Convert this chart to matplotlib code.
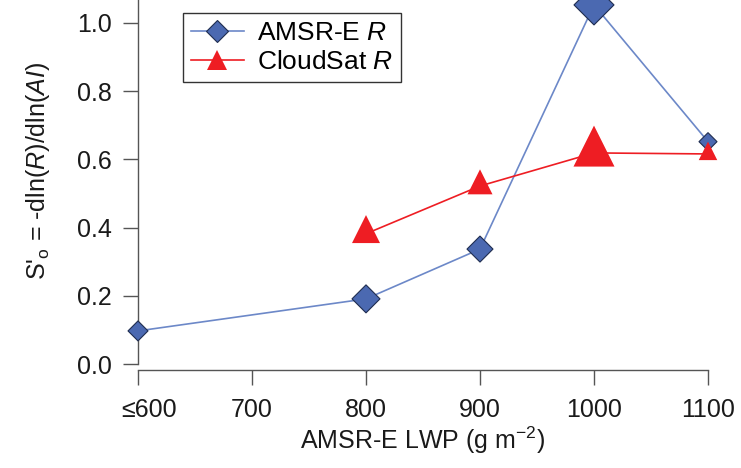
import numpy as np
import matplotlib
matplotlib.use("Agg")
import matplotlib.pyplot as plt
from matplotlib.path import Path
from matplotlib.lines import Line2D
from matplotlib.transforms import ScaledTranslation

plt.rcParams["font.family"] = ["Liberation Sans", "DejaVu Sans"]
plt.rcParams["mathtext.fontset"] = "custom"
plt.rcParams["mathtext.rm"] = "Liberation Sans"
plt.rcParams["mathtext.it"] = "Liberation Sans:italic"

# data
lwp_amsr = [600, 800, 900, 1000, 1100]
so_amsr = [0.097, 0.191, 0.337, 1.053, 0.652]
lwp_cs = [800, 900, 1000, 1100]
so_cs = [0.382, 0.522, 0.619, 0.616]

xticks = [600, 700, 800, 900, 1000, 1100]
xticklabels = ["≤600", "700", "800", "900", "1000", "1100"]
yticks = [0.0, 0.2, 0.4, 0.6, 0.8, 1.0]

# marker widths in pixels (point size varies in the original)
amsr_px = [20, 28, 26, 40, 18]
cs_px = [28, 25, 41, 18.5]

blue = "#4B69B1"
blue_line = "#6C88C8"
navy = "#1F2D50"
red = "#EE1D23"
axis_col = "#555555"

# triangle whose anchor sits at 2/3 of its height (like the original)
tri = Path([(0, 2 / 3), (-0.5, -1 / 3), (0.5, -1 / 3), (0, 2 / 3)],
           [Path.MOVETO, Path.LINETO, Path.LINETO, Path.CLOSEPOLY])

fig = plt.figure(figsize=(7.41, 4.68), dpi=100)
ax = fig.add_axes([138 / 741, 104 / 468, 570 / 741, 364 / 468])

ax.plot(lwp_amsr, so_amsr, color=blue_line, lw=1.2, zorder=2, clip_on=False)
ax.scatter(lwp_amsr, so_amsr, s=[(p / np.sqrt(2) * 0.72) ** 2 for p in amsr_px],
           marker="D", c=blue, edgecolors=navy, linewidths=0.8, zorder=3, clip_on=False)
ax.plot(lwp_cs, so_cs, color=red, lw=1.2, zorder=4, clip_on=False)
ax.scatter(lwp_cs, so_cs, s=[(p / 0.75 * 0.72) ** 2 for p in cs_px],
           marker=tri, c=red, linewidths=0, zorder=5, clip_on=False)

ax.set_xlim(600, 1100)
ax.set_ylim(0, 364 / 341)
ax.set_xticks(xticks)
ax.set_xticklabels(xticklabels)
ax.set_yticks(yticks)
ax.set_yticklabels(["%.1f" % v for v in yticks])

for s in ["top", "right"]:
    ax.spines[s].set_visible(False)
ax.spines["bottom"].set_position(("outward", 4.3))
for s in ["left", "bottom"]:
    ax.spines[s].set_color(axis_col)
    ax.spines[s].set_linewidth(1.0)

ax.tick_params(axis="both", direction="out", length=11, width=1.0,
               color=axis_col, labelsize=18, labelcolor="#1a1a1a")
ax.tick_params(axis="y", pad=8)
ax.tick_params(axis="x", pad=9)

lab0 = ax.get_xticklabels()[0]
lab0.set_transform(lab0.get_transform() + ScaledTranslation(8 / 72, 0, fig.dpi_scale_trans))

ax.set_xlabel(r"AMSR-E LWP (g m$^{-2}$)", fontsize=18, color="#1a1a1a", labelpad=2)
ax.set_ylabel(r"S$'_{\mathrm{o}}$ = -dln($\it{R}$)/dln($\it{AI}$)", fontsize=18, color="#1a1a1a")
ax.yaxis.set_label_coords(-0.15, 0.53)

handles = [
    Line2D([], [], color=blue_line, lw=1.2, marker="D", markersize=11,
           markerfacecolor=blue, markeredgecolor=navy, markeredgewidth=0.8),
    Line2D([], [], color=red, lw=1.2, marker="^", markersize=14,
           markerfacecolor=red, markeredgewidth=0),
]
leg = ax.legend(handles, [r"AMSR-E $\it{R}$", r"CloudSat $\it{R}$"],
                loc="upper left", bbox_to_anchor=(45 / 570, 1 - 13 / 364),
                borderaxespad=0, fontsize=19, frameon=True, fancybox=False,
                handlelength=2.0, handletextpad=0.5, labelspacing=0.2,
                borderpad=0.3)
leg.get_frame().set_edgecolor("#333333")
leg.get_frame().set_linewidth(1.0)
leg.get_frame().set_alpha(1)

fig.savefig("out.png", dpi=100)
